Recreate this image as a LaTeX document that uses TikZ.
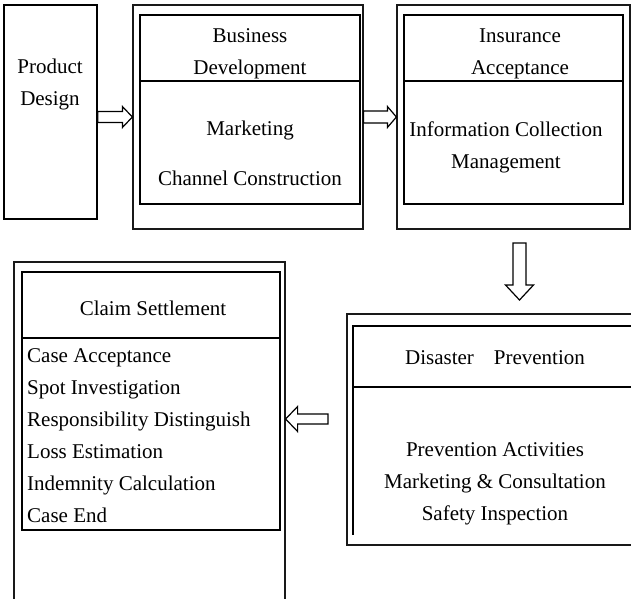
\documentclass[tikz,border=0pt]{standalone}
\usepackage{fontspec}
\setmainfont{Liberation Serif}
\usetikzlibrary{calc,positioning}

\newcommand{\hollowarrow}[5]{%
  \coordinate (hb) at ($(#2)!#5pt!(#1)$);
  \draw[blockarrow] ($(#1)!#3pt!90:(#2)$) -- ($(hb)!#3pt!-90:(#1)$) -- ($(hb)!#4pt!-90:(#1)$) -- (#2)
    -- ($(hb)!#4pt!90:(#1)$) -- ($(hb)!#3pt!90:(#1)$) -- ($(#1)!#3pt!-90:(#2)$) -- cycle;}

\begin{document}
\begin{tikzpicture}[x=1pt,y=-1pt,font=\fontsize{21}{32}\selectfont,
      outer/.style={draw=black!90,line width=1.2pt,inner sep=0pt},
      inner/.style={draw=black,line width=1.8pt,inner sep=0pt},
      txt/.style={align=center,inner sep=0pt},
      blockarrow/.style={draw=black,line width=1.2pt,fill=white,line join=miter}]
    \useasboundingbox (0,0) rectangle (631,598);
    \clip (0,0) rectangle (631,598);
    \node[outer,draw=black,line width=1.5pt,minimum width=93pt,minimum height=214pt] (P) at (50.5,112) {};
    \node[outer,minimum width=230pt,minimum height=224pt] (B) at (248,117) {};
    \node[inner,minimum width=220pt,minimum height=189pt] (Bin) at (250,109.5) {};
    \draw[inner] (Bin.west |- 0,81) -- (Bin.east |- 0,81);
    \node[outer,minimum width=233pt,minimum height=224pt] (I) at (513.5,117) {};
    \node[inner,minimum width=219pt,minimum height=189pt] (Iin) at (513.5,109.5) {};
    \draw[inner] (Iin.west |- 0,81) -- (Iin.east |- 0,81);
    \node[outer,minimum width=313pt,minimum height=231pt] (D) at (503.5,429.5) {};
    \draw[inner] (660,326) -- (353,326) -- (353,535);
    \draw[inner] (353,387) -- (660,387);
    \node[outer,minimum width=271pt,minimum height=358pt] (C) at (149.5,441) {};
    \node[inner,minimum width=258pt,minimum height=258pt] (Cin) at (151,401) {};
    \draw[inner,line width=1.4pt] (Cin.west |- 0,338) -- (Cin.east |- 0,338);
    \node[txt] (Pt) at (50,84.5) {Product\\Design};
    \node[txt] (Bt) at (250,54) {Business\\Development};
    \node[txt] (Bl) at (250,153) {Marketing\\[18pt]Channel Construction};
    \node[txt] (It) at (520,54) {Insurance\\Acceptance};
    \node[txt] (Il) at (506,147.5) {Information Collection\\Management};
    \node[txt] (Ct) at (153,308) {Claim Settlement};
    \node[txt,align=left,anchor=west] (Cl) at (27,436) {Case Acceptance\\Spot Investigation\\Responsibility Distinguish\\Loss Estimation\\Indemnity Calculation\\Case End};
    \node[txt] (Dt) at (495,358) {Disaster\hspace{20pt}Prevention};
    \node[txt] (Dl) at (495,483.5) {Prevention Activities\\Marketing \& Consultation\\Safety Inspection};
    \coordinate (a1) at (P.east |- B.west);
    \hollowarrow{a1}{B.west}{5.5}{10.5}{10}
    \coordinate (a2) at (I.west |- B.east);
    \hollowarrow{B.east}{a2}{6}{10.5}{9}
    \coordinate (a3) at (519.5,243);
    \coordinate (a4) at (519.5,300);
    \hollowarrow{a3}{a4}{6.5}{14}{15}
    \coordinate (a5) at (328,419);
    \coordinate (a6) at (C.east |- a5);
    \hollowarrow{a5}{a6}{5}{12.5}{12}
  \end{tikzpicture}
\end{document}
